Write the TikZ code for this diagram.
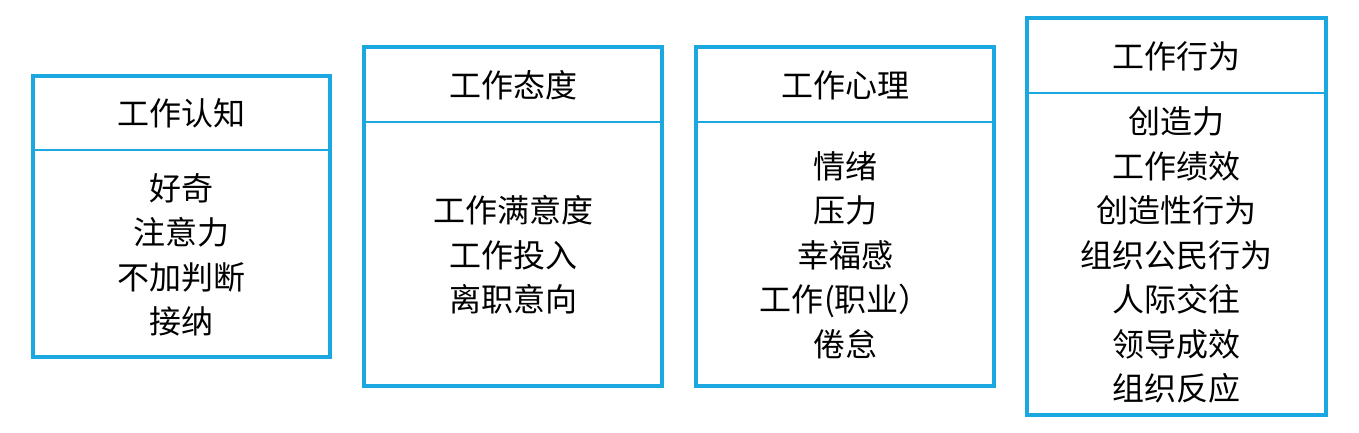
\documentclass[tikz,border=0pt]{standalone}
\usepackage{fontspec}
\newfontfamily\cjk{Noto Sans CJK SC}
\definecolor{boxblue}{RGB}{27,168,224}
\begin{document}
\begin{tikzpicture}[x=1pt,y=-1pt,
  panel/.style={draw=boxblue,line width=3.3pt},
  divider/.style={draw=boxblue,line width=1.3pt},
  lbl/.style={font=\cjk\fontsize{32}{44.5}\selectfont,inner sep=0pt,align=center,text=black}]
\useasboundingbox (0,0) rectangle (1359,433);
% box 1
\draw[panel] (33,76) rectangle (330,357);
\coordinate (d1a) at (33,150); \coordinate (d1b) at (330,150);
\draw[divider] (d1a) -- (d1b);
\node[lbl] (t1) at (181.5,113) {工作认知};
\node[lbl] (c1) at (181.5,255) {好奇\\注意力\\不加判断\\接纳};
% box 2
\draw[panel] (364,47) rectangle (662,386);
\coordinate (d2a) at (364,122); \coordinate (d2b) at (662,122);
\draw[divider] (d2a) -- (d2b);
\node[lbl] (t2) at (513,85) {工作态度};
\node[lbl] (c2) at (513,255) {工作满意度\\工作投入\\离职意向};
% box 3
\draw[panel] (696,47) rectangle (994,386);
\coordinate (d3a) at (696,122); \coordinate (d3b) at (994,122);
\draw[divider] (d3a) -- (d3b);
\node[lbl] (t3) at (845,85) {工作心理};
\node[lbl] (c3) at (845,255) {情绪\\压力\\幸福感\\工作\kern1pt(职业）\\倦怠};
% box 4
\draw[panel] (1027,18) rectangle (1326,415);
\coordinate (d4a) at (1027,93); \coordinate (d4b) at (1326,93);
\draw[divider] (d4a) -- (d4b);
\node[lbl] (t4) at (1176.5,56) {工作行为};
\node[lbl] (c4) at (1176.5,255) {创造力\\工作绩效\\创造性行为\\组织公民行为\\人际交往\\领导成效\\组织反应};
\end{tikzpicture}
\end{document}
